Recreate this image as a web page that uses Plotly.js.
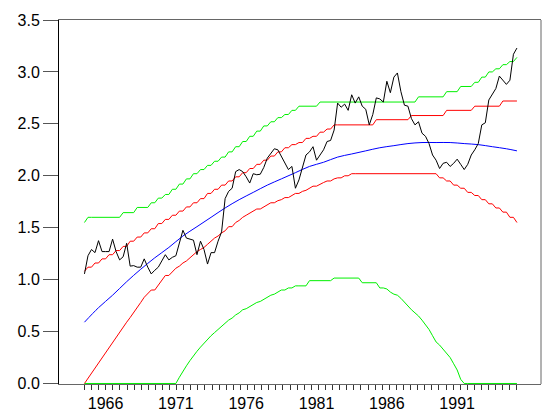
<!DOCTYPE html>
<html>
<head>
<meta charset="utf-8">
<script src="https://cdn.plot.ly/plotly-3.0.1.min.js"></script>
<style>html,body{margin:0;padding:0;background:#fff;}#chart{width:542px;height:413px;}</style>
</head>
<body>
<div id="chart"></div>
<script>
// ---- Data ----
const startYear = 1965;          // first quarter: 1965Q1
const nQuarters = 124;           // 1965Q1 .. 1995Q4

// Observed quarterly series (black)
const observed = [
  1.055,1.23,1.29,1.26,1.375,1.27,1.27,1.27,1.39,1.27,
  1.19,1.22,1.35,1.13,1.135,1.12,1.12,1.20,1.12,1.055,
  1.09,1.12,1.18,1.24,1.19,1.215,1.23,1.35,1.475,1.40,
  1.39,1.38,1.24,1.37,1.29,1.15,1.26,1.26,1.37,1.46,
  1.78,1.85,1.88,2.04,2.06,2.04,1.99,1.93,2.02,2.01,
  2.015,2.08,2.17,2.22,2.26,2.25,2.19,2.12,2.06,2.09,
  1.88,1.96,2.07,2.20,2.23,2.28,2.15,2.20,2.25,2.33,
  2.34,2.44,2.70,2.66,2.69,2.63,2.78,2.70,2.76,2.67,
  2.64,2.49,2.59,2.75,2.74,2.71,2.91,2.80,2.95,2.99,
  2.81,2.68,2.67,2.55,2.49,2.52,2.41,2.38,2.31,2.20,
  2.15,2.07,2.12,2.13,2.09,2.12,2.16,2.11,2.06,2.11,
  2.20,2.25,2.31,2.49,2.51,2.73,2.79,2.84,2.96,2.92,
  2.88,2.92,3.17,3.23
];

// Smooth trend (blue), read once a year
const trendYears = [1965,1966,1967,1968,1969,1970,1971,1972,1973,1974,1975,1976,1977,1978,1979,1980,
                    1981,1982,1983,1984,1985,1986,1987,1988,1989,1990,1991,1992,1993,1994,1995,1995.75];
const trend = [0.59,0.73,0.85,0.98,1.10,1.21,1.31,1.42,1.51,1.60,1.69,1.77,1.84,1.91,1.97,2.03,
               2.09,2.13,2.18,2.21,2.24,2.27,2.29,2.31,2.32,2.32,2.32,2.31,2.30,2.28,2.26,2.24];

// Upper bands, read every half year (1965.0, 1965.5, ..., 1996.0)
const innerUpper = [1.08,1.12,1.16,1.20,1.24,1.28,1.32,1.37,1.41,1.45,
                    1.49,1.54,1.58,1.62,1.66,1.70,1.74,1.78,1.83,1.87,
                    1.91,1.95,1.99,2.03,2.07,2.11,2.15,2.19,2.23,2.27,
                    2.30,2.32,2.36,2.38,2.42,2.45,2.49,2.49,2.49,2.49,
                    2.49,2.49,2.54,2.54,2.54,2.54,2.54,2.58,2.58,2.58,
                    2.58,2.58,2.63,2.63,2.63,2.63,2.67,2.67,2.67,2.67,
                    2.72,2.72,2.72];
const outerUpper = [1.55,1.60,1.60,1.60,1.60,1.60,1.645,1.645,1.695,1.695,
                    1.74,1.785,1.82,1.87,1.92,1.97,2.02,2.06,2.10,2.14,
                    2.18,2.23,2.28,2.33,2.38,2.43,2.48,2.52,2.56,2.59,
                    2.63,2.67,2.67,2.67,2.71,2.71,2.71,2.71,2.71,2.71,
                    2.71,2.71,2.71,2.71,2.71,2.71,2.71,2.71,2.76,2.76,
                    2.76,2.76,2.81,2.81,2.86,2.86,2.90,2.95,3.00,3.03,
                    3.07,3.10,3.14];

// Lower bands, read every quarter (1965Q1 .. 1995Q4)
const innerLower = [0.00,0.05,0.10,0.15,0.20,0.245,0.29,0.34,0.39,0.44,
                    0.49,0.54,0.59,0.635,0.68,0.73,0.78,0.83,0.87,0.90,
                    0.90,0.95,0.99,1.04,1.04,1.08,1.11,1.13,1.16,1.18,
                    1.21,1.24,1.27,1.29,1.31,1.34,1.37,1.40,1.42,1.45,
                    1.47,1.51,1.51,1.55,1.57,1.60,1.62,1.64,1.66,1.68,
                    1.68,1.70,1.72,1.74,1.74,1.76,1.77,1.79,1.79,1.81,
                    1.83,1.83,1.85,1.86,1.88,1.90,1.90,1.92,1.935,1.95,
                    1.95,1.97,1.98,1.98,2.00,2.00,2.02,2.02,2.02,2.02,
                    2.02,2.02,2.02,2.02,2.02,2.02,2.02,2.02,2.02,2.02,
                    2.02,2.02,2.02,2.02,2.02,2.02,2.02,2.02,2.02,2.02,
                    2.02,1.98,1.98,1.95,1.95,1.91,1.91,1.88,1.88,1.84,
                    1.84,1.81,1.81,1.77,1.77,1.73,1.73,1.69,1.69,1.65,
                    1.65,1.60,1.60,1.55];
const outerLower = [0,0,0,0,0,0,0,0,0,0,
                    0,0,0,0,0,0,0,0,0,0,
                    0,0,0,0,0,0,0,0.06,0.12,0.17,
                    0.22,0.27,0.31,0.35,0.39,0.42,0.46,0.49,0.52,0.55,
                    0.58,0.61,0.63,0.66,0.68,0.71,0.72,0.74,0.76,0.78,
                    0.79,0.81,0.83,0.85,0.86,0.88,0.90,0.90,0.92,0.92,
                    0.94,0.94,0.94,0.94,0.99,0.99,0.99,0.99,0.99,0.99,
                    0.99,1.015,1.015,1.015,1.015,1.015,1.015,1.015,1.015,0.97,
                    0.97,0.97,0.97,0.97,0.92,0.92,0.91,0.88,0.86,0.85,
                    0.82,0.78,0.75,0.71,0.68,0.65,0.61,0.57,0.52,0.46,
                    0.40,0.37,0.33,0.29,0.25,0.19,0.13,0.04,0,0,
                    0,0,0,0,0,0,0,0,0,0,
                    0,0,0,0];

const labelYears = [1966,1971,1976,1981,1986,1991];

// ---- Build what Plotly needs ----
const qx = [];
for (let i = 0; i < nQuarters; i++) qx.push(startYear + i / 4);
// each half-year reading covers the quarter ending on it and the one before
function toQuarters(h) {
  const out = [];
  for (let i = 0; i < nQuarters; i++) out.push(h[Math.floor((i + 1) / 2)]);
  return out;
}
const minorTicks = [];
for (let k = 0; k < 62; k++) minorTicks.push(startYear + k * (qx[nQuarters - 1] - startYear) / 61);

const font = {family: 'Liberation Sans, Arial, sans-serif', size: 16, color: '#000'};
const green = '#00f000', red = '#ff0000', blue = '#0000ff';

const traces = [
  {x: qx, y: toQuarters(outerUpper), mode: 'lines', line: {color: green, width: 1}},
  {x: qx, y: outerLower, mode: 'lines', line: {color: green, width: 1}},
  {x: qx, y: toQuarters(innerUpper), mode: 'lines', line: {color: red, width: 1}},
  {x: qx, y: innerLower, mode: 'lines', line: {color: red, width: 1}},
  {x: trendYears, y: trend, mode: 'lines', line: {color: blue, width: 1, shape: 'spline'}},
  {x: qx, y: observed, mode: 'lines', line: {color: '#000000', width: 1}}
];

const layout = {
  width: 542, height: 413,
  margin: {l: 59, r: 1, t: 20, b: 29, pad: 0},
  paper_bgcolor: '#fff', plot_bgcolor: '#fff',
  showlegend: false,
  font: font,
  xaxis: {
    range: [1963.19, 1997.46],
    showgrid: false, zeroline: false,
    showline: true, linecolor: '#666', linewidth: 1, mirror: true,
    layer: 'below traces',
    tickmode: 'array',
    tickvals: labelYears.map(y => y + 0.5),
    ticktext: labelYears.map(String),
    ticks: 'outside', ticklen: 5, tickcolor: 'rgba(0,0,0,0)',
    tickfont: font,
    minor: {tickmode: 'array', tickvals: minorTicks, ticks: 'outside', ticklen: 5,
            tickwidth: 1, tickcolor: '#333', showgrid: false}
  },
  yaxis: {
    range: [-0.005, 3.5],
    showgrid: false, zeroline: false,
    showline: true, linecolor: '#000', linewidth: 1, mirror: false,
    layer: 'below traces',
    tickmode: 'linear', tick0: 0, dtick: 0.5, tickformat: '.1f',
    ticks: 'outside', ticklen: 15, tickwidth: 1, tickcolor: '#555',
    tickfont: font
  },
  shapes: [
    {type: 'line', xref: 'paper', yref: 'paper', x0: 1, x1: 1, y0: 0, y1: 1,
     line: {color: '#666', width: 1}}
  ]
};

Plotly.newPlot('chart', traces, layout, {staticPlot: true, displayModeBar: false});
</script>
</body>
</html>
